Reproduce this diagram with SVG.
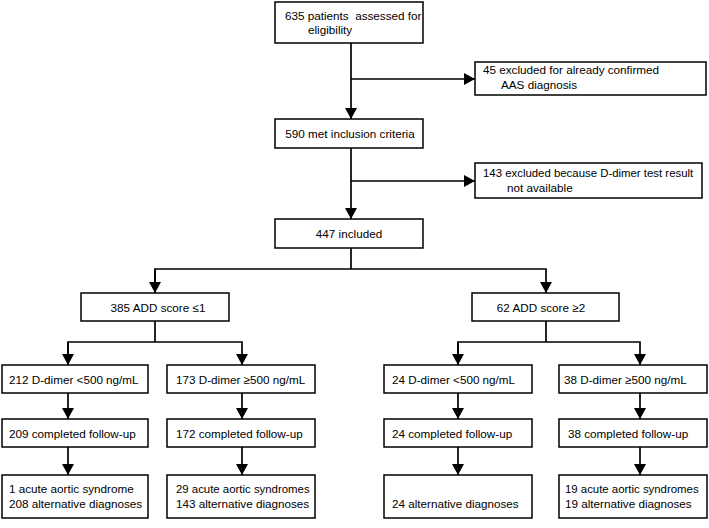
<svg xmlns="http://www.w3.org/2000/svg" width="709" height="528" viewBox="0 0 709 528">
<defs>
<marker id="arr" markerWidth="11" markerHeight="12" refX="11" refY="6" orient="auto" markerUnits="userSpaceOnUse">
<path d="M0,0 L11,6 L0,12 z" fill="#000"/>
</marker>
<style>
rect{fill:#fff;stroke:#000;stroke-width:1.5}
text{font-family:"Liberation Sans",Arial,sans-serif;font-size:11.7px;fill:#000;white-space:pre}
.c{text-anchor:middle}
.s{font-size:11.4px}
#connectors path{fill:none;stroke:#000;stroke-width:1.7}
</style>
</defs>
<rect x="0" y="0" width="709" height="528" style="fill:#fff;stroke:none"/>
<g id="connectors">
<path d="M351,43 V119" marker-end="url(#arr)"/>
<path d="M351,79 H475" marker-end="url(#arr)"/>
<path d="M351,148 V219" marker-end="url(#arr)"/>
<path d="M351,181 H475" marker-end="url(#arr)"/>
<path d="M351,248 V269"/>
<path d="M155,293 V269 H546 V293" marker-end="url(#arr)"/>
<path d="M155,269 V293" marker-end="url(#arr)"/>
<path d="M155,321 V342"/>
<path d="M68,365 V342 H242 V365" marker-end="url(#arr)"/>
<path d="M68,342 V365" marker-end="url(#arr)"/>
<path d="M546,321 V342"/>
<path d="M458,365 V342 H640 V365" marker-end="url(#arr)"/>
<path d="M458,342 V365" marker-end="url(#arr)"/>
<path d="M68,393 V419" marker-end="url(#arr)"/>
<path d="M68,447 V475" marker-end="url(#arr)"/>
<path d="M242,393 V419" marker-end="url(#arr)"/>
<path d="M242,447 V475" marker-end="url(#arr)"/>
<path d="M458,393 V419" marker-end="url(#arr)"/>
<path d="M458,447 V475" marker-end="url(#arr)"/>
<path d="M640,393 V419" marker-end="url(#arr)"/>
<path d="M640,447 V475" marker-end="url(#arr)"/>
</g>
<g id="n_assessed"><rect x="275" y="2" width="148" height="41"/><text x="285" y="20">635 patients  assessed for</text><text x="308" y="34">eligibility</text></g>
<g id="n_excl1"><rect x="475" y="62" width="231" height="33"/><text x="483" y="74">45 excluded for already confirmed</text><text x="501" y="89">AAS diagnosis</text></g>
<g id="n_met"><rect x="275" y="119" width="148" height="29"/><text class="c" x="350" y="138">590 met inclusion criteria</text></g>
<g id="n_excl2"><rect x="475" y="163" width="227" height="35"/><text class="s" x="483" y="177">143 excluded because D-dimer test result</text><text x="507" y="192">not available</text></g>
<g id="n_included"><rect x="275" y="219" width="148" height="29"/><text class="c" x="349" y="238">447 included</text></g>
<g id="n_add1"><rect x="81" y="293" width="148" height="28"/><text class="c" x="158" y="312">385 ADD score ≤1</text></g>
<g id="n_add2"><rect x="472" y="293" width="147" height="28"/><text class="c" x="541" y="312">62 ADD score ≥2</text></g>
<g id="n_dd1"><rect x="2" y="365" width="146" height="28"/><text x="9" y="384">212 D-dimer &lt;500 ng/mL</text></g>
<g id="n_dd2"><rect x="167" y="365" width="148" height="28"/><text x="176" y="384">173 D-dimer ≥500 ng/mL</text></g>
<g id="n_dd3"><rect x="384" y="365" width="148" height="28"/><text x="392" y="384">24 D-dimer &lt;500 ng/mL</text></g>
<g id="n_dd4"><rect x="559" y="365" width="148" height="28"/><text x="564" y="384">38 D-dimer ≥500 ng/mL</text></g>
<g id="n_fu1"><rect x="2" y="419" width="146" height="28"/><text x="9" y="438">209 completed follow-up</text></g>
<g id="n_fu2"><rect x="167" y="419" width="148" height="28"/><text x="176" y="438">172 completed follow-up</text></g>
<g id="n_fu3"><rect x="384" y="419" width="148" height="28"/><text x="392" y="438">24 completed follow-up</text></g>
<g id="n_fu4"><rect x="559" y="419" width="148" height="28"/><text x="568" y="438">38 completed follow-up</text></g>
<g id="n_out1"><rect x="2" y="475" width="146" height="43"/><text x="9" y="493">1 acute aortic syndrome</text><text x="9" y="508">208 alternative diagnoses</text></g>
<g id="n_out2"><rect x="167" y="475" width="148" height="43"/><text class="s" x="176" y="493">29 acute aortic syndromes</text><text x="176" y="508">143 alternative diagnoses</text></g>
<g id="n_out3"><rect x="384" y="475" width="148" height="43"/><text x="392" y="508">24 alternative diagnoses</text></g>
<g id="n_out4"><rect x="559" y="475" width="148" height="43"/><text class="s" x="565" y="493">19 acute aortic syndromes</text><text x="565" y="508">19 alternative diagnoses</text></g>
</svg>
